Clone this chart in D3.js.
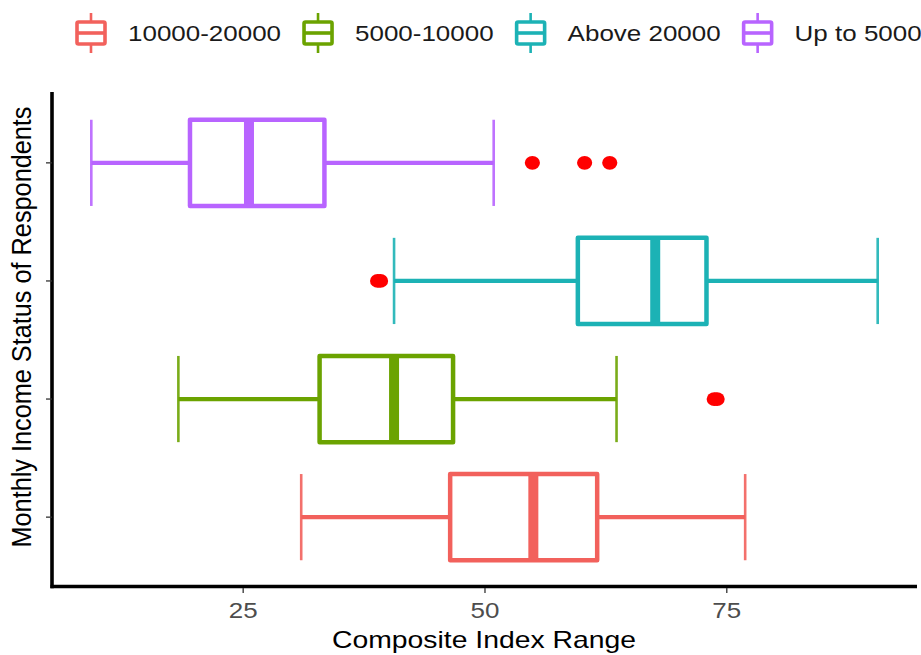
<!DOCTYPE html>
<html>
<head>
<meta charset="utf-8">
<script src="https://cdn.jsdelivr.net/npm/d3@7"></script>
<style>
  html, body { margin: 0; padding: 0; background: #ffffff; }
  svg { display: block; font-family: "Liberation Sans", Arial, Helvetica, sans-serif; }
</style>
</head>
<body>
<svg id="chart" width="921" height="655"></svg>
<script>
// Income groups, bottom to top
const categories = ["10000-20000", "5000-10000", "Above 20000", "Up to 5000"];
const colors = ["#F2615C", "#6BA300", "#1CB2B5", "#B864FF"];

// Five-number summaries of the composite index per group
const whiskerLow  = [31.0, 18.3, 40.6,  9.3];
const q1          = [46.4, 32.9, 59.6, 19.5];
const median      = [55.0, 40.6, 67.6, 25.6];
const q3          = [61.6, 46.7, 72.9, 33.4];
const whiskerHigh = [76.9, 63.6, 90.6, 50.9];
const outliers    = [[], [73.7, 74.0], [38.9, 39.2], [54.9, 60.3, 62.9]];

const xTicks = [25, 50, 75];
const xTitle = "Composite Index Range";
const yTitle = "Monthly Income Status of  Respondents";

const svg = d3.select("#chart");
const STRETCH = 1.18; // horizontal widening applied to glyphs

const panel = { left: 52, right: 917, top: 92, bottom: 588 };

const x = d3.scaleLinear()
  .domain([5.235, 94.665])
  .range([panel.left, panel.right]);

const y = d3.scalePoint()
  .domain(categories)
  .range([panel.bottom, panel.top])
  .padding(0.6);

const step = y.step();
const boxH = step * 0.73;
const capH = step * 0.73;

// widen a text element horizontally while keeping its anchor
function widen(sel) {
  sel.each(function () {
    const w = this.getComputedTextLength();
    d3.select(this)
      .attr("textLength", w * STRETCH)
      .attr("lengthAdjust", "spacingAndGlyphs");
  });
}

// ---- boxes ----
const groups = svg.append("g").selectAll("g")
  .data(categories.map((c, i) => ({ c, i })))
  .join("g");

groups.each(function (d) {
  const g = d3.select(this);
  const i = d.i;
  const cy = y(d.c);
  const col = colors[i];

  // whisker stems
  g.append("line")
    .attr("x1", x(whiskerLow[i])).attr("x2", x(q1[i]))
    .attr("y1", cy).attr("y2", cy)
    .attr("stroke", col).attr("stroke-width", 4.3);
  g.append("line")
    .attr("x1", x(q3[i])).attr("x2", x(whiskerHigh[i]))
    .attr("y1", cy).attr("y2", cy)
    .attr("stroke", col).attr("stroke-width", 4.3);

  // whisker caps
  [whiskerLow[i], whiskerHigh[i]].forEach(v => {
    g.append("line")
      .attr("x1", x(v)).attr("x2", x(v))
      .attr("y1", cy - capH / 2).attr("y2", cy + capH / 2)
      .attr("stroke", col).attr("stroke-width", 2.6)
      .attr("stroke-opacity", 0.9);
  });

  // box
  g.append("rect")
    .attr("x", x(q1[i])).attr("width", x(q3[i]) - x(q1[i]))
    .attr("y", cy - boxH / 2).attr("height", boxH)
    .attr("fill", "#ffffff")
    .attr("stroke", col).attr("stroke-width", 4.5)
    .attr("stroke-linejoin", "round");

  // median
  g.append("line")
    .attr("x1", x(median[i])).attr("x2", x(median[i]))
    .attr("y1", cy - boxH / 2).attr("y2", cy + boxH / 2)
    .attr("stroke", col).attr("stroke-width", 10);

  // outliers
  g.selectAll("ellipse")
    .data(outliers[i])
    .join("ellipse")
    .attr("cx", v => x(v)).attr("cy", cy)
    .attr("rx", 7.6).attr("ry", 6.9)
    .attr("fill", "#FF0000");
});

// ---- axes ----
const axisG = svg.append("g");
axisG.append("line")
  .attr("x1", panel.left - 1.5).attr("x2", panel.right)
  .attr("y1", 586.5).attr("y2", 586.5)
  .attr("stroke", "#000").attr("stroke-width", 3.6);
axisG.append("line")
  .attr("x1", panel.left).attr("x2", panel.left)
  .attr("y1", panel.top).attr("y2", 588.3)
  .attr("stroke", "#000").attr("stroke-width", 3.6);

// x ticks and labels
const xAxis = svg.append("g");
xAxis.selectAll("line")
  .data(xTicks)
  .join("line")
  .attr("x1", d => x(d)).attr("x2", d => x(d))
  .attr("y1", 588).attr("y2", 593)
  .attr("stroke", "#333").attr("stroke-width", 1.3);
xAxis.selectAll("text")
  .data(xTicks)
  .join("text")
  .attr("x", d => x(d)).attr("y", 618)
  .attr("text-anchor", "middle")
  .attr("font-size", 22)
  .attr("fill", "#4D4D4D")
  .text(d => d)
  .call(widen);

// y ticks
svg.append("g").selectAll("line")
  .data(categories)
  .join("line")
  .attr("x1", panel.left - 6).attr("x2", panel.left)
  .attr("y1", d => y(d)).attr("y2", d => y(d))
  .attr("stroke", "#333").attr("stroke-width", 1.3);

// axis titles
svg.append("text")
  .attr("x", 484).attr("y", 648)
  .attr("text-anchor", "middle")
  .attr("font-size", 24)
  .attr("fill", "#000")
  .text(xTitle)
  .call(widen);

svg.append("text")
  .attr("transform", "translate(31,327) rotate(-90) scale(1," + STRETCH + ")")
  .attr("text-anchor", "middle")
  .attr("font-size", 24)
  .attr("fill", "#000")
  .text(yTitle)
  .attr("textLength", 441)
  .attr("lengthAdjust", "spacingAndGlyphs");

// ---- legend ----
const legend = svg.append("g");
let keyX = 91;
const legY = 33;
categories.forEach((c, i) => {
  const col = colors[i];
  const k = legend.append("g");
  k.append("line")
    .attr("x1", keyX).attr("x2", keyX)
    .attr("y1", 13).attr("y2", 53)
    .attr("stroke", col).attr("stroke-width", 2.6);
  k.append("rect")
    .attr("x", keyX - 14).attr("y", legY - 11)
    .attr("width", 28).attr("height", 22)
    .attr("rx", 1.5)
    .attr("fill", "#fff")
    .attr("stroke", col).attr("stroke-width", 3.6);
  k.append("line")
    .attr("x1", keyX - 14).attr("x2", keyX + 14)
    .attr("y1", legY).attr("y2", legY)
    .attr("stroke", col).attr("stroke-width", 3.6);

  const t = legend.append("text")
    .attr("x", keyX + 37).attr("y", legY + 8)
    .attr("font-size", 22)
    .attr("fill", "#1A1A1A")
    .text(c)
    .call(widen);
  const w = +t.attr("textLength");
  keyX = keyX + 37 + w + 37;
});
</script>
</body>
</html>
